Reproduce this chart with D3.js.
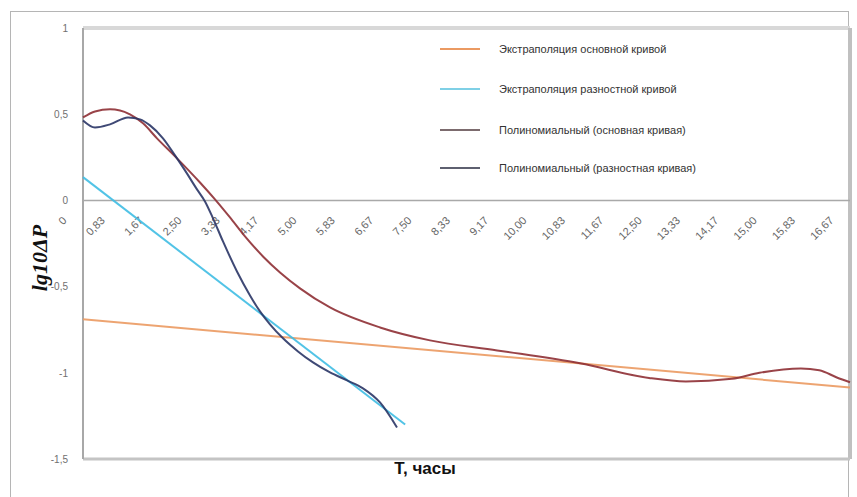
<!DOCTYPE html>
<html lang="ru">
<head>
  <meta charset="UTF-8">
  <title>lg10ΔP</title>
  <script src="https://d3js.org/d3.v7.min.js"></script>
  <style>
    body { margin: 0; background: #fff; font-family: "Liberation Sans", Arial, sans-serif; }
    .tick text { fill: #707070; font-size: 10px; }
    .x-axis .tick text { font-size: 11px; fill: #666; }
    .legend text { fill: #333; font-size: 11px; }
  </style>
</head>
<body>
  <svg width="857" height="497"></svg>

  <script>
    // tick labels of the category axis (hours)
    const xTickValues = [0, 0.8333, 1.6667, 2.5, 3.3333, 4.1667, 5, 5.8333, 6.6667, 7.5, 8.3333,
                         9.1667, 10, 10.8333, 11.6667, 12.5, 13.3333, 14.1667, 15, 15.8333, 16.6667];
    const xTickLabels = ["0", "0,83", "1,67", "2,50", "3,33", "4,17", "5,00", "5,83", "6,67", "7,50", "8,33",
                         "9,17", "10,00", "10,83", "11,67", "12,50", "13,33", "14,17", "15,00", "15,83", "16,67"];
    const yTickValues = [1, 0.5, 0, -0.5, -1, -1.5];
    const yTickLabels = ["1", "0,5", "0", "-0,5", "-1", "-1,5"];

    // series: [t, lg10ΔP]
    const extrapMain = [[0, -0.69], [16.6667, -1.085]];
    const extrapDiff = [[0, 0.135], [7.0, -1.30]];
    const polyMain = [
      [0, 0.481], [0.261, 0.516], [0.587, 0.528], [0.804, 0.522], [1.021, 0.499], [1.304, 0.447],
      [1.608, 0.36], [2.043, 0.244], [2.542, 0.104], [2.868, 0.006], [3.194, -0.099], [3.52, -0.209],
      [3.911, -0.325], [4.281, -0.418], [4.715, -0.51], [5.367, -0.621], [6.454, -0.737], [7.54, -0.812],
      [9.0, -0.87], [10.8, -0.945], [12.3, -1.03], [13.1, -1.05], [14.1, -1.035], [14.7, -1.0],
      [15.6, -0.975], [16.0, -0.985], [16.38, -1.027], [16.6667, -1.055]
    ];
    const polyDiff = [
      [0, 0.464], [0.261, 0.423], [0.587, 0.441], [0.978, 0.481], [1.239, 0.47], [1.456, 0.435],
      [1.738, 0.36], [1.999, 0.261], [2.216, 0.174], [2.477, 0.064], [2.651, -0.006], [2.825, -0.104],
      [3.042, -0.238], [3.346, -0.412], [3.629, -0.551], [3.846, -0.644], [4.063, -0.719], [4.346, -0.8],
      [4.672, -0.876], [4.998, -0.94], [5.367, -0.998], [5.737, -1.044], [6.084, -1.09], [6.454, -1.172],
      [6.823, -1.317]
    ];

    const seriesNames = ["Экстраполяция основной кривой", "Экстраполяция разностной кривой",
                         "Полиномиальный (основная кривая)", "Полиномиальный (разностная кривая)"];
    const seriesColors = ["#eb9a62", "#3fbde3", "#8e2f34", "#2a3566"];
    const legendColors = ["#eb9a62", "#7fd0e6", "#7c6b6e", "#5e6070"];

    const svg = d3.select("svg");

    const plotLeft = 83, plotRight = 850, plotTop = 28, plotBottom = 459;

    const x = d3.scaleLinear().domain([0, 16.6667]).range([plotLeft, plotRight]);
    const y = d3.scaleLinear().domain([-1.5, 1]).range([plotBottom, plotTop]);

    // outer frame
    svg.append("rect")
      .attr("x", 10.5).attr("y", 11.5)
      .attr("width", 838).attr("height", 490)
      .attr("fill", "none").attr("stroke", "#b5b5b5");

    // plot area frame
    svg.append("line").attr("x1", plotLeft).attr("x2", plotRight).attr("y1", plotTop).attr("y2", plotTop)
      .attr("stroke", "#d8d8d8").attr("stroke-width", 4);
    svg.append("line").attr("x1", plotRight).attr("x2", plotRight).attr("y1", plotTop).attr("y2", plotBottom)
      .attr("stroke", "#c0c0c0").attr("stroke-width", 4);
    svg.append("line").attr("x1", plotLeft).attr("x2", plotRight).attr("y1", plotBottom).attr("y2", plotBottom)
      .attr("stroke", "#c4c4c4").attr("stroke-width", 3);
    svg.append("line").attr("x1", plotLeft).attr("x2", plotLeft).attr("y1", plotTop).attr("y2", plotBottom)
      .attr("stroke", "#a8a8a8").attr("stroke-width", 2);

    // zero line
    svg.append("line").attr("x1", plotLeft).attr("x2", plotRight).attr("y1", y(0)).attr("y2", y(0))
      .attr("stroke", "#a9a9a9").attr("stroke-width", 1.5);

    // y axis labels
    const yAxis = svg.append("g")
      .attr("transform", `translate(${plotLeft - 12},0)`)
      .call(d3.axisLeft(y).tickValues(yTickValues).tickSize(0)
        .tickFormat((d, i) => yTickLabels[i]));
    yAxis.select(".domain").remove();

    // x axis labels, rotated, next to the zero line
    const xAxis = svg.append("g")
      .attr("class", "x-axis")
      .attr("transform", `translate(0,${y(0) + 18})`)
      .call(d3.axisBottom(x).tickValues(xTickValues).tickSize(0)
        .tickFormat((d, i) => xTickLabels[i]));
    xAxis.select(".domain").remove();
    xAxis.selectAll("text")
      .attr("text-anchor", "end")
      .attr("dy", "0.35em")
      .attr("y", 0)
      .attr("transform", "translate(-19,0) rotate(-45)");

    // curves
    const straight = d3.line().x(d => x(d[0])).y(d => y(d[1]));
    const smooth = d3.line().x(d => x(d[0])).y(d => y(d[1])).curve(d3.curveMonotoneX);

    const curves = [
      { data: extrapMain, gen: straight },
      { data: extrapDiff, gen: straight },
      { data: polyMain, gen: smooth },
      { data: polyDiff, gen: smooth }
    ];

    curves.forEach((c, i) => {
      svg.append("path")
        .datum(c.data)
        .attr("d", c.gen)
        .attr("fill", "none")
        .attr("stroke", seriesColors[i])
        .attr("stroke-width", 2)
        .attr("stroke-linejoin", "round")
        .attr("opacity", 0.9);
    });

    // legend
    const legend = svg.append("g").attr("class", "legend");
    const rowY = [49, 89, 130, 168];
    seriesNames.forEach((name, i) => {
      legend.append("line")
        .attr("x1", 440).attr("x2", 480)
        .attr("y1", rowY[i]).attr("y2", rowY[i])
        .attr("stroke", legendColors[i]).attr("stroke-width", 2);
      legend.append("text")
        .attr("x", 499).attr("y", rowY[i])
        .attr("dy", "0.35em")
        .text(name);
    });

    // axis titles
    svg.append("text")
      .attr("x", 425).attr("y", 474)
      .attr("text-anchor", "middle")
      .attr("font-size", 17)
      .attr("font-weight", "bold")
      .attr("fill", "#111")
      .text("Т, часы");

    svg.append("text")
      .attr("transform", "translate(47,258) rotate(-90)")
      .attr("text-anchor", "middle")
      .attr("font-family", "'Liberation Serif', 'Times New Roman', serif")
      .attr("font-size", 22)
      .attr("font-weight", "bold")
      .attr("font-style", "italic")
      .attr("fill", "#111")
      .text("lg10ΔP");
  </script>
</body>
</html>
